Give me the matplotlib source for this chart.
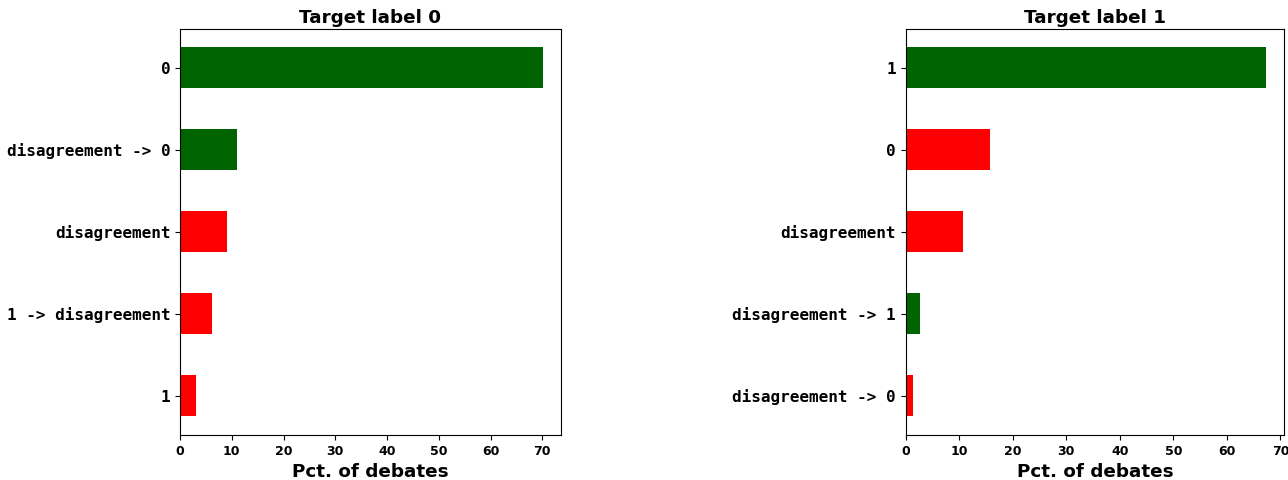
import numpy as np
import matplotlib
matplotlib.use("Agg")
from matplotlib import pyplot as plt

# bottom-to-top order, as barh draws them
labels_0 = ["1", "1 -> disagreement", "disagreement", "disagreement -> 0", "0"]
pct_0 = [3.1, 6.2, 9.1, 11.0, 70.05]
colors_0 = ["red", "red", "red", "darkgreen", "darkgreen"]

labels_1 = ["disagreement -> 0", "disagreement -> 1", "disagreement", "0", "1"]
pct_1 = [1.4, 2.7, 10.7, 15.8, 67.3]
colors_1 = ["red", "darkgreen", "red", "red", "darkgreen"]

titles = ["Target label 0", "Target label 1"]

fig = plt.figure(figsize=(12.88, 4.8), dpi=100)
ax0 = fig.add_axes([0.1398, 0.094, 0.2955, 0.846])
ax1 = fig.add_axes([0.7032, 0.094, 0.2937, 0.846])

for ax, labels, pct, colors, title in zip([ax0, ax1], [labels_0, labels_1],
                                          [pct_0, pct_1], [colors_0, colors_1], titles):
    y = np.arange(len(labels))
    ax.barh(y, pct, height=0.5, color=colors)
    ax.set_yticks(y)
    ax.set_yticklabels(labels, family="DejaVu Sans Mono", fontweight="bold", fontsize=11.5)
    for t in ax.get_xticklabels():
        t.set_fontweight("bold")
        t.set_fontsize(9)
    ax.set_xlabel("Pct. of debates", fontsize=13.2, fontweight="bold")
    ax.set_title(title, fontsize=13.2, fontweight="bold", pad=4)

fig.savefig("out.png", dpi=100)
